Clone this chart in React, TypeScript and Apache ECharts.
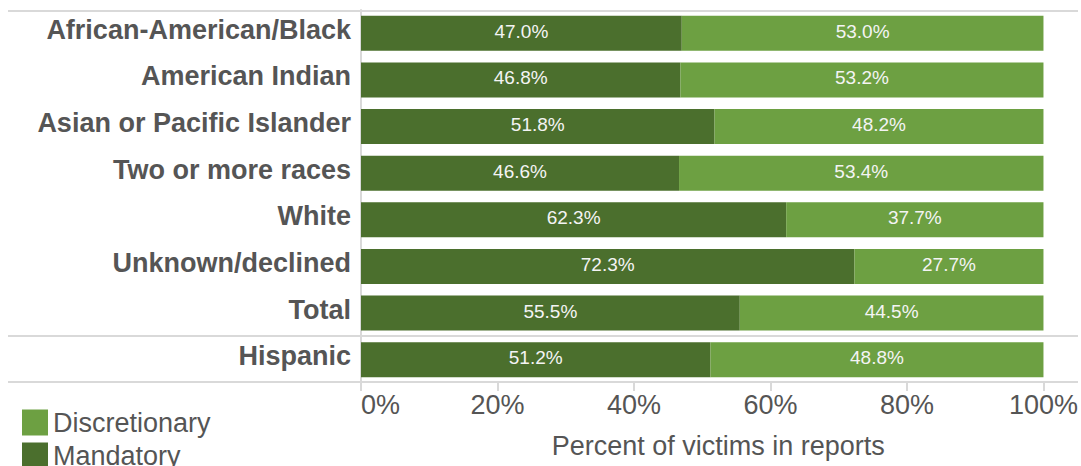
import React, { useEffect, useRef } from "react";
import * as echarts from "echarts";

const categories = [
  "African-American/Black",
  "American Indian",
  "Asian or Pacific Islander",
  "Two or more races",
  "White",
  "Unknown/declined",
  "Total",
  "Hispanic",
];
const mandatory = [47.0, 46.8, 51.8, 46.6, 62.3, 72.3, 55.5, 51.2];
const discretionary = [53.0, 53.2, 48.2, 53.4, 37.7, 27.7, 44.5, 48.8];
const xTicks = [0, 20, 40, 60, 80, 100];
const seriesNames = ["Mandatory", "Discretionary"];
const legendOrder = ["Discretionary", "Mandatory"];
const axisTitle = "Percent of victims in reports";

const DARK = "#4b6f2d";
const LIGHT = "#6da042";
const FONT = "Arial, 'Liberation Sans', Helvetica, sans-serif";
const GRID_LINE = "#d9d9d9";
const TEXT = "#555555";

export default function App() {
  const ref = useRef<HTMLDivElement>(null);
  useEffect(() => {
    if (!ref.current) return;
    const chart = echarts.init(ref.current, undefined, { renderer: "svg" });
    const barLabel = {
      show: true,
      position: "inside",
      color: "#f4f4f4",
      fontSize: 19,
      fontFamily: FONT,
      formatter: (p: any) => Number(p.value).toFixed(1) + "%",
      offset: [0, -2],
    };
    chart.setOption({
      animation: false,
      textStyle: { fontFamily: FONT },
      grid: { left: 361, right: 35, top: 10, height: 373, containLabel: false },
      legend: {
        data: legendOrder,
        orient: "vertical",
        left: 17,
        top: 404,
        height: 120,
        itemWidth: 26,
        itemHeight: 26,
        itemGap: 6,
        icon: "rect",
        textStyle: { fontSize: 27, color: TEXT, fontFamily: FONT },
      },
      xAxis: {
        type: "value",
        min: xTicks[0],
        max: xTicks[xTicks.length - 1],
        interval: 20,
        axisLine: { show: false },
        axisTick: { show: true, length: 8, lineStyle: { color: GRID_LINE, width: 2 } },
        splitLine: { show: false },
        axisLabel: {
          color: TEXT,
          fontSize: 27,
          fontFamily: FONT,
          margin: 8,
          formatter: (v: number) => v + "%",
          alignMinLabel: "left",
        },
        name: axisTitle,
        nameLocation: "middle",
        nameGap: 49,
        nameTextStyle: { color: TEXT, fontSize: 27, fontFamily: FONT, padding: [0, 0, 0, 32] },
      },
      yAxis: {
        type: "category",
        data: categories,
        inverse: true,
        axisLine: { show: true, lineStyle: { color: GRID_LINE, width: 2 } },
        axisTick: { show: false },
        splitLine: { show: false },
        axisLabel: {
          margin: 10,
          formatter: (v: string) => "{c|" + v + "}",
          rich: {
            c: {
              color: TEXT,
              fontSize: 27,
              fontWeight: "bold",
              fontFamily: FONT,
              padding: [0, 0, 7, 0],
            },
          },
        },
      },
      graphic: [
        { type: "line", shape: { x1: 8, y1: 11, x2: 1078, y2: 11 }, style: { stroke: GRID_LINE, lineWidth: 2 }, z: 0 },
        { type: "line", shape: { x1: 8, y1: 336, x2: 1078, y2: 336 }, style: { stroke: GRID_LINE, lineWidth: 2 }, z: 0 },
        { type: "line", shape: { x1: 8, y1: 382, x2: 1078, y2: 382 }, style: { stroke: GRID_LINE, lineWidth: 2 }, z: 0 },
      ],
      series: [
        {
          name: seriesNames[0],
          type: "bar",
          stack: "total",
          data: mandatory,
          barCategoryGap: "25%",
          itemStyle: { color: DARK },
          label: barLabel,
        },
        {
          name: seriesNames[1],
          type: "bar",
          stack: "total",
          data: discretionary,
          barCategoryGap: "25%",
          itemStyle: { color: LIGHT },
          label: barLabel,
        },
      ],
    });
    return () => chart.dispose();
  }, []);
  return (
    <div
      ref={ref}
      style={{ position: "fixed", left: 0, top: 0, width: 1081, height: 466, background: "#ffffff" }}
    />
  );
}
